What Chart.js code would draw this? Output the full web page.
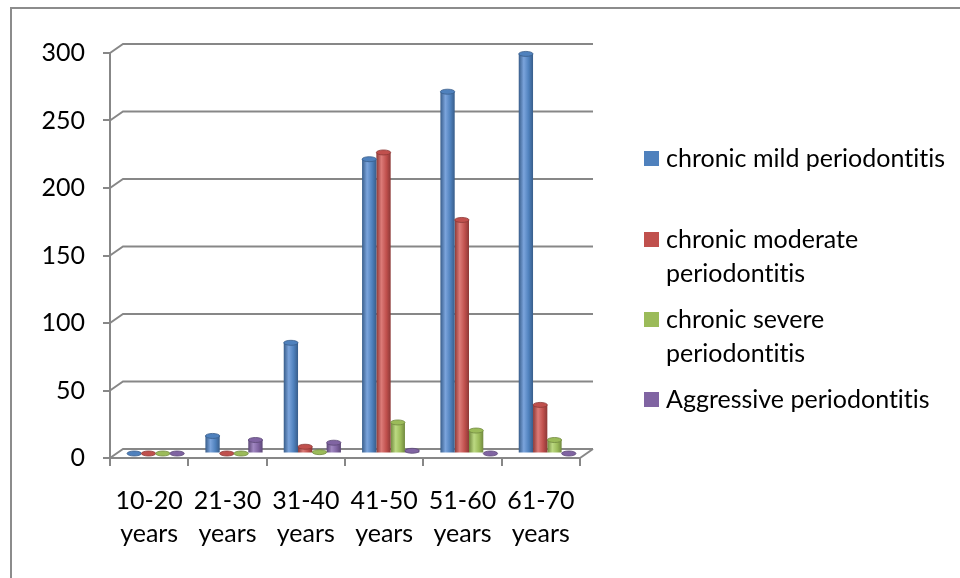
<!DOCTYPE html>
<html>
<head>
<meta charset="utf-8">
<script src="https://cdn.jsdelivr.net/npm/chart.js@4.4.1/dist/chart.umd.min.js"></script>
<style>
    html, body { margin: 0; padding: 0; background: #fff; }
    #wrap { position: relative; width: 960px; height: 578px; overflow: hidden; font-family: Lato, "Liberation Sans", sans-serif; }
    #frame { position: absolute; left: 10px; top: 7px; width: 1000px; height: 700px; border-left: 2px solid #8c8c8c; border-top: 2px solid #8c8c8c; }
    #ageChart { position: absolute; left: 0; top: 0; }
    #legend { position: absolute; left: 644px; top: 0; }
    .item { position: absolute; left: 0; width: 310px; }
    .box { position: absolute; left: 0; top: 0; width: 15px; height: 15px; }
    .txt { position: absolute; left: 22px; top: -10px; font-size: 25px; line-height: 33.5px; color: #000; white-space: nowrap; font-variant-ligatures: none; font-feature-settings: "liga" 0; }
</style>
</head>
<body>
<div id="wrap">
    <div id="frame"></div>
    <canvas id="ageChart" width="960" height="578"></canvas>
    <div id="legend"></div>
</div>
<script>
const ageGroups = [["10-20", "years"], ["21-30", "years"], ["31-40", "years"], ["41-50", "years"], ["51-60", "years"], ["61-70", "years"]];
const seriesNames = [["chronic mild periodontitis"], ["chronic moderate", "periodontitis"], ["chronic severe", "periodontitis"], ["Aggressive periodontitis"]];
const seriesColors = ["#4f81bd", "#c0504d", "#9bbb59", "#8064a2"];
const seriesDark = ["#385d8a", "#8c3836", "#71893f", "#5c4776"];
const seriesLight = ["#7ba4dc", "#dc7b78", "#bcd982", "#a188c2"];
const mildValues = [0, 13, 82, 218, 268, 296];
const moderateValues = [0, 0, 5, 223, 173, 36];
const severeValues = [0, 0, 1, 23, 17, 10];
const aggressiveValues = [0, 10, 8, 2, 0, 0];
const yTicks = [0, 50, 100, 150, 200, 250, 300];

const gridGray = "#878787";
const depthX = 13, depthY = -9;

// back wall gridlines + floor, drawn like the old excel 3d frame
const frame3d = {
    id: "frame3d",
    beforeDatasetsDraw(chart) {
        const ctx = chart.ctx;
        const y = chart.scales.y;
        const area = chart.chartArea;
        ctx.save();
        ctx.strokeStyle = gridGray;
        ctx.lineWidth = 2;
        yTicks.forEach(function(v) {
            const py = y.getPixelForValue(v);
            ctx.beginPath();
            ctx.moveTo(area.left, py);
            ctx.lineTo(area.left + depthX, py + depthY);
            ctx.lineTo(area.right + depthX, py + depthY);
            ctx.stroke();
        });
        ctx.beginPath();
        ctx.moveTo(area.right, area.bottom);
        ctx.lineTo(area.right + depthX, area.bottom + depthY);
        ctx.stroke();
        ctx.restore();

        // bars sit half way into the depth
        ctx.save();
        ctx.translate(depthX / 2, depthY / 2);

        // cylinder shading per bar
        chart.data.datasets.forEach(function(ds, i) {
            chart.getDatasetMeta(i).data.forEach(function(bar) {
                const g = ctx.createLinearGradient(bar.x - bar.width / 2, 0, bar.x + bar.width / 2, 0);
                g.addColorStop(0, seriesDark[i]);
                g.addColorStop(0.35, seriesLight[i]);
                g.addColorStop(0.7, seriesColors[i]);
                g.addColorStop(1, seriesDark[i]);
                bar.options.backgroundColor = g;
            });
        });
    },
    afterDatasetsDraw(chart) {
        const ctx = chart.ctx;
        // round tops, so zero values still show as flat discs
        chart.data.datasets.forEach(function(ds, i) {
            chart.getDatasetMeta(i).data.forEach(function(bar) {
                ctx.beginPath();
                ctx.ellipse(bar.x, bar.y, bar.width / 2, 2.5, 0, 0, Math.PI * 2);
                ctx.fillStyle = seriesColors[i];
                ctx.fill();
                ctx.strokeStyle = seriesDark[i];
                ctx.lineWidth = 0.8;
                ctx.stroke();
            });
        });
        ctx.restore();
    }
};

const allValues = [mildValues, moderateValues, severeValues, aggressiveValues];

const ctx = document.getElementById("ageChart").getContext("2d");
const ageChart = new Chart(ctx, {
    type: "bar",
    data: {
        labels: ageGroups,
        datasets: allValues.map(function(vals, i) {
            return {
                label: seriesNames[i].join(" "),
                data: vals,
                // scriptable so every bar gets its own options object
                backgroundColor: function() { return seriesColors[i]; },
                borderWidth: 0,
                categoryPercentage: 0.73,
                barPercentage: 1.0
            };
        })
    },
    options: {
        responsive: false,
        animation: false,
        layout: {
            padding: { left: 0, right: 380, top: 53, bottom: 0 }
        },
        scales: {
            x: {
                grid: { drawOnChartArea: false, color: gridGray, lineWidth: 2, tickLength: 8 },
                border: { color: gridGray, width: 2 },
                ticks: {
                    color: "#000",
                    padding: 18,
                    font: { family: "Lato", size: 25, lineHeight: 1.34 },
                    maxRotation: 0
                },
                afterFit: function(scale) { scale.height = 120; }
            },
            y: {
                min: 0,
                max: 300,
                grid: { drawOnChartArea: false, color: gridGray, lineWidth: 2, tickLength: 7 },
                border: { color: gridGray, width: 2 },
                ticks: {
                    stepSize: 50,
                    color: "#000",
                    padding: 18,
                    font: { family: "Lato", size: 25 }
                },
                afterFit: function(scale) { scale.width = 110; }
            }
        },
        plugins: {
            legend: { display: false },
            tooltip: { enabled: false }
        }
    },
    plugins: [frame3d]
});

// legend on the right, excel style with wrapped names
const legendEl = document.getElementById("legend");
const legendTops = [151, 232, 312, 392];
seriesNames.forEach(function(lines, i) {
    const item = document.createElement("div");
    item.className = "item";
    item.style.top = legendTops[i] + "px";
    const box = document.createElement("div");
    box.className = "box";
    box.style.background = seriesColors[i];
    const txt = document.createElement("div");
    txt.className = "txt";
    txt.innerHTML = lines.join("<br>");
    item.appendChild(box);
    item.appendChild(txt);
    legendEl.appendChild(item);
});
</script>
</body>
</html>
